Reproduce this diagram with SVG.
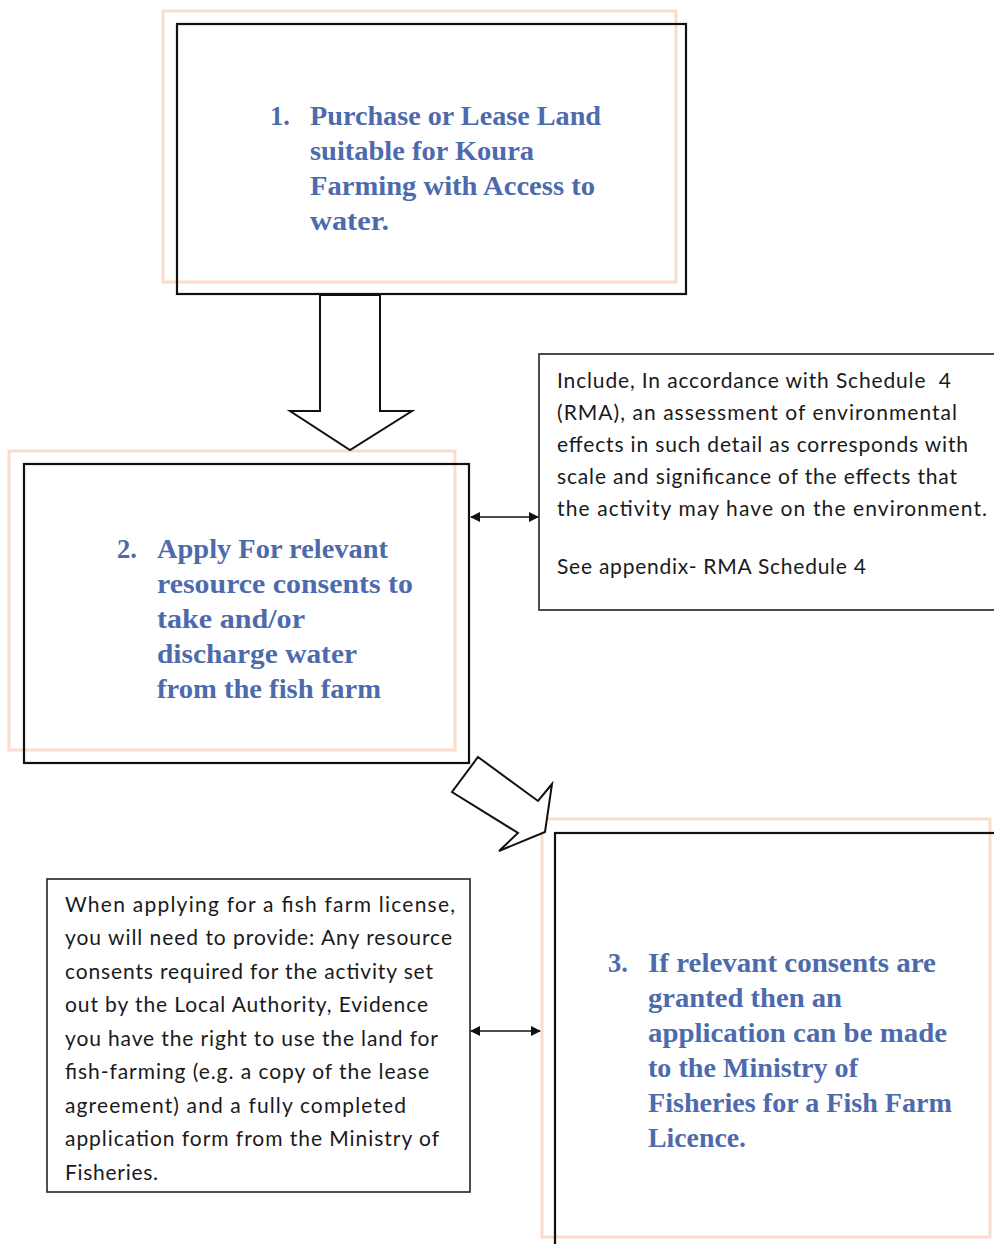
<svg xmlns="http://www.w3.org/2000/svg" width="994" height="1244" viewBox="0 0 994 1244">
  <style>
    .orange { fill: #ffffff; stroke: #f9dccb; stroke-width: 3; }
    .black { fill: none; stroke: #111111; stroke-width: 2.2; }
    .note { fill: #ffffff; stroke: #222222; stroke-width: 1.6; }
    .step { font-family: "Liberation Serif", "Times New Roman", serif; font-weight: bold; font-size: 26.5px; fill: #4d6aad; }
    .txt { font-family: "Lato", "Liberation Sans", Arial, sans-serif; font-size: 21px; fill: #1a1a1a; }
    .conn { fill: none; stroke: #111111; stroke-width: 1.5; }
    .block { fill: #ffffff; stroke: #111111; stroke-width: 2; stroke-linejoin: miter; }
  </style>
  <defs>
    <marker id="ah" viewBox="0 0 10 10" refX="9" refY="5" markerWidth="11" markerHeight="10" markerUnits="userSpaceOnUse" orient="auto-start-reverse">
      <path d="M0,0 L10,5 L0,10 Z" fill="#111111"/>
    </marker>
  </defs>
  <rect width="994" height="1244" fill="#ffffff"/>

  <g id="step1">
    <rect class="orange" x="163" y="11" width="513" height="271"/>
    <rect class="black" x="177" y="24" width="509" height="270"/>
    <text class="step" x="270" y="125">1.</text>
    <text class="step" x="310" y="125" textLength="291" lengthAdjust="spacingAndGlyphs">Purchase or Lease Land</text>
    <text class="step" x="310" y="160" textLength="224" lengthAdjust="spacingAndGlyphs">suitable for Koura</text>
    <text class="step" x="310" y="195" textLength="285" lengthAdjust="spacingAndGlyphs">Farming with Access to</text>
    <text class="step" x="310" y="230" textLength="79" lengthAdjust="spacingAndGlyphs">water.</text>
  </g>

  <g id="step2">
    <rect class="orange" x="9" y="451" width="446" height="299"/>
    <rect class="black" x="24" y="464" width="445" height="299"/>
    <text class="step" x="117" y="558">2.</text>
    <text class="step" x="157" y="558" textLength="231" lengthAdjust="spacingAndGlyphs">Apply For relevant</text>
    <text class="step" x="157" y="593" textLength="256" lengthAdjust="spacingAndGlyphs">resource consents to</text>
    <text class="step" x="157" y="628" textLength="148" lengthAdjust="spacingAndGlyphs">take and/or</text>
    <text class="step" x="157" y="663" textLength="200" lengthAdjust="spacingAndGlyphs">discharge water</text>
    <text class="step" x="157" y="698" textLength="224" lengthAdjust="spacingAndGlyphs">from the fish farm</text>
  </g>

  <g id="step3">
    <rect class="orange" x="542" y="819" width="448" height="418"/>
    <rect class="black" x="555" y="833" width="460" height="430"/>
    <text class="step" x="608" y="972">3.</text>
    <text class="step" x="648" y="972" textLength="288" lengthAdjust="spacingAndGlyphs">If relevant consents are</text>
    <text class="step" x="648" y="1007" textLength="194" lengthAdjust="spacingAndGlyphs">granted then an</text>
    <text class="step" x="648" y="1042" textLength="299" lengthAdjust="spacingAndGlyphs">application can be made</text>
    <text class="step" x="648" y="1077" textLength="210" lengthAdjust="spacingAndGlyphs">to the Ministry of</text>
    <text class="step" x="648" y="1112" textLength="304" lengthAdjust="spacingAndGlyphs">Fisheries for a Fish Farm</text>
    <text class="step" x="648" y="1147" textLength="98" lengthAdjust="spacingAndGlyphs">Licence.</text>
  </g>

  <g id="note-rma">
    <rect class="note" x="539" y="354" width="470" height="256"/>
    <text class="txt" x="557" y="388" textLength="394" lengthAdjust="spacing">Include, In accordance with Schedule&#160; 4</text>
    <text class="txt" x="557" y="420" textLength="400" lengthAdjust="spacing">(RMA), an assessment of environmental</text>
    <text class="txt" x="557" y="452" textLength="411" lengthAdjust="spacing">effects in such detail as corresponds with</text>
    <text class="txt" x="557" y="484" textLength="400" lengthAdjust="spacing">scale and significance of the effects that</text>
    <text class="txt" x="557" y="516" textLength="430" lengthAdjust="spacing">the activity may have on the environment.</text>
    <text class="txt" x="557" y="574" textLength="309" lengthAdjust="spacing">See appendix- RMA Schedule 4</text>
  </g>

  <g id="note-licence">
    <rect class="note" x="47" y="879" width="423" height="313"/>
    <text class="txt" x="65" y="912" textLength="390" lengthAdjust="spacing">When applying for a fish farm license,</text>
    <text class="txt" x="65" y="945" textLength="387" lengthAdjust="spacing">you will need to provide: Any resource</text>
    <text class="txt" x="65" y="979" textLength="368" lengthAdjust="spacing">consents required for the activity set</text>
    <text class="txt" x="65" y="1012" textLength="363" lengthAdjust="spacing">out by the Local Authority, Evidence</text>
    <text class="txt" x="65" y="1046" textLength="373" lengthAdjust="spacing">you have the right to use the land for</text>
    <text class="txt" x="65" y="1079" textLength="364" lengthAdjust="spacing">fish-farming (e.g. a copy of the lease</text>
    <text class="txt" x="65" y="1113" textLength="341" lengthAdjust="spacing">agreement) and a fully completed</text>
    <text class="txt" x="65" y="1146" textLength="374" lengthAdjust="spacing">application form from the Ministry of</text>
    <text class="txt" x="65" y="1180" textLength="93" lengthAdjust="spacing">Fisheries.</text>
  </g>

  <g id="connectors">
    <polygon class="block" points="320,295 320,411 290,411 350,450 412,411 380,411 380,295"/>
    <polygon class="block" points="478,757 538,801 552,784 545,832 499,851 518,833 452,792"/>
    <line class="conn" x1="471" y1="517" x2="538" y2="517" marker-start="url(#ah)" marker-end="url(#ah)"/>
    <line class="conn" x1="471" y1="1031" x2="540" y2="1031" marker-start="url(#ah)" marker-end="url(#ah)"/>
  </g>
</svg>
